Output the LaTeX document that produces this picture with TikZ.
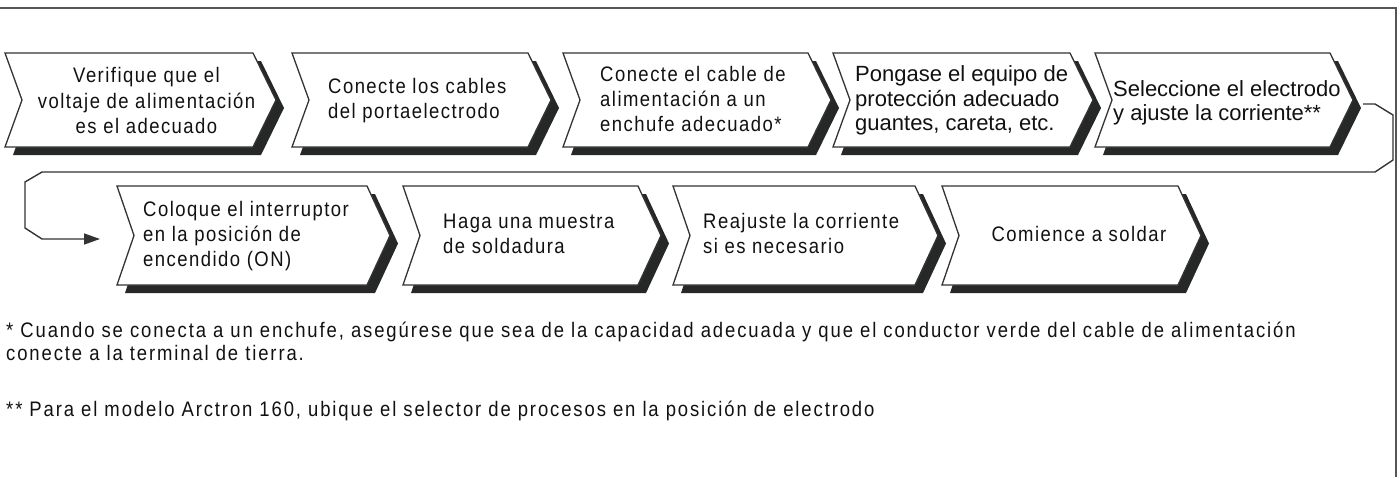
\documentclass[tikz,border=0pt]{standalone}
\usepackage{fontspec}
\setmainfont{Liberation Sans}[FakeStretch=0.88,LetterSpace=7]
\newfontfamily\plainfont{Liberation Sans}
\newfontfamily\notefont{Liberation Sans}[FakeStretch=0.88,LetterSpace=9]
\usetikzlibrary{arrows.meta}
\definecolor{shadowc}{HTML}{262828}
\definecolor{linec}{HTML}{333333}
\definecolor{framec}{HTML}{555555}
\definecolor{textc}{HTML}{111111}
\def\tipd{23}
\def\notchd{17}
\newcommand\chevbox[4]{%
  \fill[shadowc] ({#1+8},{#3+8}) -- ({#2+8},{#3+8}) -- ({#2+8+\tipd},{(#3+#4)/2+8}) -- ({#2+8},{#4+8}) -- ({#1+8},{#4+8}) -- ({#1+8+\notchd},{(#3+#4)/2+8}) -- cycle;
  \filldraw[boxline] (#1,#3) -- (#2,#3) -- ({#2+\tipd},{(#3+#4)/2}) -- (#2,#4) -- (#1,#4) -- ({#1+\notchd},{(#3+#4)/2}) -- cycle;}
\tikzset{
  boxline/.style={draw=linec, fill=white, line width=1.3pt, line join=miter},
  conn/.style={draw=linec, line width=1.4pt},
  btext/.style={inner sep=0pt, anchor=base west, text=textc, font=\fontsize{21}{25}\selectfont},
  ctext/.style={btext, anchor=base},
  ptext/.style={inner sep=0pt, anchor=base west, text=textc, font=\plainfont\fontsize{22}{25}\selectfont},
  ftext/.style={inner sep=0pt, anchor=base west, text=textc, font=\notefont\fontsize{21}{25}\selectfont}
}
\begin{document}
\begin{tikzpicture}[x=1pt,y=-1pt]
\useasboundingbox (0,0) rectangle (1400,477);
% frame
\draw[framec, line width=2pt] (0,8) -- (1396,8) -- (1396,477);
% row 1
\chevbox{5}{253}{53}{147}
\chevbox{292}{528}{53}{147}
\chevbox{563}{808}{53}{147}
\chevbox{833}{1070}{53}{147}
\chevbox{1095}{1330}{53}{147}
% row 2
\chevbox{117}{367}{186}{285}
\chevbox{403}{638}{186}{285}
\chevbox{673}{915}{186}{285}
\chevbox{942}{1178}{186}{285}
% texts
\node[ctext] (t1a) at (146.5,82.3) {Verifique que el};
\node[ctext] (t1b) at (146.5,108.3) {voltaje de alimentación};
\node[ctext] (t1c) at (146.5,133.3) {es el adecuado};
\node[btext] (t2a) at (328,93.3) {Conecte los cables};
\node[btext] (t2b) at (328,118.3) {del portaelectrodo};
\node[btext] (t3a) at (600,81.7) {Conecte el cable de};
\node[btext] (t3b) at (600,106.7) {alimentación a un};
\node[btext] (t3c) at (600,131.7) {enchufe adecuado*};
\node[ptext] (t4a) at (855,81.7) {Pongase el equipo de};
\node[ptext] (t4b) at (855,106.7) {protección adecuado};
\node[ptext] (t4c) at (855,130.7) {guantes, careta, etc.};
\node[ptext] (t5a) at (1113,96) {Seleccione el electrodo};
\node[ptext] (t5b) at (1113,120) {y ajuste la corriente**};
\node[btext] (t6a) at (143,216.7) {Coloque el interruptor};
\node[btext] (t6b) at (143,241.7) {en la posición de};
\node[btext] (t6c) at (143,266.7) {encendido (ON)};
\node[btext] (t7a) at (443,228.3) {Haga una muestra};
\node[btext] (t7b) at (443,253.3) {de soldadura};
\node[btext] (t8a) at (703,228.3) {Reajuste la corriente};
\node[btext] (t8b) at (703,253.3) {si es necesario};
\node[ctext] (t9a) at (1079,241.7) {Comience a soldar};
% connector
\coordinate (k0) at (1363,104);
\coordinate (k1) at (1375,104);
\coordinate (k2) at (1393,115);
\coordinate (k3) at (1393,160);
\coordinate (k4) at (1375,172);
\coordinate (k5) at (42,172);
\coordinate (k6) at (25,182);
\coordinate (k7) at (25,228);
\coordinate (k8) at (42,239);
\coordinate (k9) at (100,239);
\draw[conn, -{Triangle[length=16pt,width=11pt]}] (k0) -- (k1) -- (k2) -- (k3) -- (k4) -- (k5) -- (k6) -- (k7) -- (k8) -- (k9);
% footnotes
\node[ftext] (f1) at (6,337) {* Cuando se conecta a un enchufe, asegúrese que sea de la capacidad adecuada y que el conductor verde del cable de alimentación};
\node[ftext] (f2) at (6,360) {conecte a la terminal de tierra.};
\node[ftext] (f3) at (6,416) {** Para el modelo Arctron 160, ubique el selector de procesos en la posición de electrodo};
\end{tikzpicture}
\end{document}
